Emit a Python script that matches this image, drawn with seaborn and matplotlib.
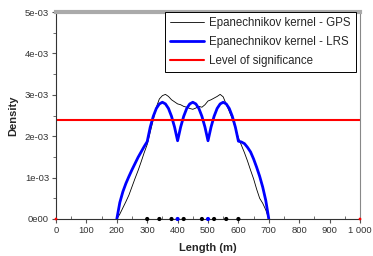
import numpy as np
import pandas as pd
import matplotlib
matplotlib.use("Agg")
import matplotlib.pyplot as plt
import seaborn as sns
from matplotlib.ticker import FixedLocator, MultipleLocator

# ---- data (density in units of 1e-3) ----
gps_x = [200, 210, 220, 230, 240, 250, 260, 270, 280, 290, 300, 310, 320, 330, 340,
         350, 360, 370, 380, 390, 400, 410, 420, 430, 440, 450, 460, 470, 480, 490,
         500, 510, 520, 530, 540, 550, 560, 570, 580, 590, 600, 610, 620, 630, 640,
         650, 660, 670, 680, 690, 700]
gps_y = [0.0, 0.12, 0.27, 0.42, 0.58, 0.78, 0.98, 1.17, 1.38, 1.60, 1.80, 2.10, 2.40,
         2.70, 2.90, 2.98, 3.01, 2.96, 2.88, 2.83, 2.78, 2.76, 2.72, 2.70, 2.67, 2.65,
         2.68, 2.72, 2.70, 2.76, 2.85, 2.88, 2.92, 2.96, 3.01, 2.95, 2.77, 2.60, 2.42,
         2.20, 1.96, 1.78, 1.60, 1.40, 1.18, 0.97, 0.72, 0.50, 0.38, 0.22, 0.0]

lrs_x = [200, 210, 220, 230, 240, 250, 260, 270, 280, 290, 300, 310, 320, 330, 340,
         350, 360, 370, 380, 390, 400, 410, 420, 430, 440, 450, 460, 470, 480, 490,
         500, 510, 520, 530, 540, 550, 560, 570, 580, 590, 600, 610, 620, 630, 640,
         650, 660, 670, 680, 690, 700]
lrs_y = [0.0, 0.40, 0.66, 0.86, 1.03, 1.19, 1.34, 1.49, 1.62, 1.75, 1.87, 2.22, 2.48,
         2.67, 2.78, 2.82, 2.78, 2.67, 2.48, 2.22, 1.89, 2.22, 2.48, 2.67, 2.78, 2.82,
         2.78, 2.67, 2.48, 2.22, 1.89, 2.22, 2.48, 2.67, 2.78, 2.82, 2.78, 2.67, 2.48,
         2.22, 1.88, 1.86, 1.82, 1.73, 1.62, 1.45, 1.25, 1.03, 0.77, 0.45, 0.0]

significance = 2.4  # 1e-3

gps_points = [300, 340, 380, 420, 480, 520, 560, 600]
lrs_points = [400, 500]
edge_points = [0, 1000]

x_ticks = [0, 100, 200, 300, 400, 500, 600, 700, 800, 900, 1000]
x_tick_labels = ["0", "100", "200", "300", "400", "500", "600", "700", "800", "900", "1 000"]
y_ticks = [0, 1e-3, 2e-3, 3e-3, 4e-3, 5e-3]
y_tick_labels = ["0e00", "1e-03", "2e-03", "3e-03", "4e-03", "5e-03"]

gps = pd.DataFrame({"x": gps_x, "y": np.array(gps_y) * 1e-3})
lrs = pd.DataFrame({"x": lrs_x, "y": np.array(lrs_y) * 1e-3})

sns.set_style("ticks")
plt.rcParams["font.family"] = ["Liberation Sans", "DejaVu Sans"]

fig = plt.figure(figsize=(3.73, 2.56), dpi=100)
ax = fig.add_axes([56 / 373, 1 - 219 / 256, 304 / 373, 207 / 256])

sns.lineplot(data=gps, x="x", y="y", ax=ax, color="black", lw=0.6,
             label="Epanechnikov kernel - GPS")
sns.lineplot(data=lrs, x="x", y="y", ax=ax, color="#0000ff", lw=2.0,
             label="Epanechnikov kernel - LRS")
ax.axhline(significance * 1e-3, color="#ff0000", lw=1.5, label="Level of significance")

sns.scatterplot(x=gps_points, y=[0] * len(gps_points), ax=ax, color="black",
                s=9, edgecolor="none", clip_on=False, zorder=5)
sns.scatterplot(x=lrs_points, y=[0] * len(lrs_points), ax=ax, color="#0000ff",
                s=9, edgecolor="none", clip_on=False, zorder=5)
sns.scatterplot(x=edge_points, y=[0] * len(edge_points), ax=ax, color="#ff0000",
                s=4, edgecolor="none", clip_on=False, zorder=5)

ax.set_xlim(0, 1000)
ax.set_ylim(0, 5e-3)
ax.xaxis.set_major_locator(FixedLocator(x_ticks))
ax.xaxis.set_minor_locator(MultipleLocator(50))
ax.yaxis.set_major_locator(FixedLocator(y_ticks))
ax.yaxis.set_minor_locator(MultipleLocator(0.5e-3))
ax.set_xticklabels(x_tick_labels)
ax.set_yticklabels(y_tick_labels)

ax.tick_params(axis="both", which="major", labelsize=6.8, colors="#555555",
               labelcolor="#333333", length=3, width=0.8, pad=2)
ax.tick_params(axis="x", which="minor", direction="in", length=2, colors="#555555")
ax.tick_params(axis="y", which="minor", length=2, colors="#555555")

ax.set_xlabel("Length (m)", fontsize=8, fontweight="bold", labelpad=6)
ax.set_ylabel("Density", fontsize=8, fontweight="bold", labelpad=5)

for side in ["left", "bottom"]:
    ax.spines[side].set_color("#333333")
    ax.spines[side].set_linewidth(0.8)
ax.spines["top"].set_color("#aaaaaa")
ax.spines["top"].set_linewidth(3)
ax.spines["right"].set_color("#888888")
ax.spines["right"].set_linewidth(0.8)

leg = ax.legend(loc="upper right", bbox_to_anchor=(0.986, 1.0), borderaxespad=0,
                fontsize=8.3, frameon=True, fancybox=False, handlelength=3.0,
                handletextpad=0.4, labelspacing=0.6, borderpad=0.45)
leg.get_frame().set_edgecolor("black")
leg.get_frame().set_linewidth(0.7)
leg.get_frame().set_facecolor("white")
leg.get_frame().set_alpha(1)

fig.savefig("out.png", dpi=100)
